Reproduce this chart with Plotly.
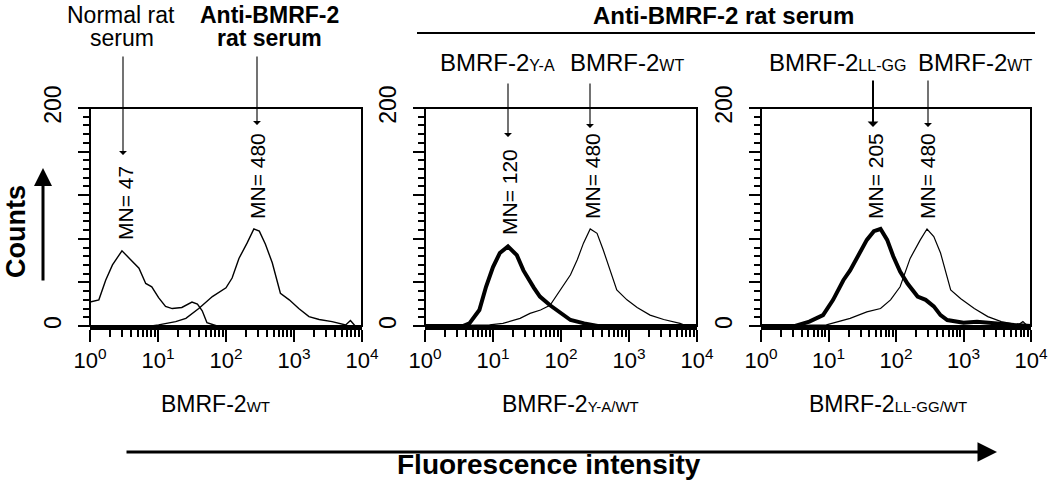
import plotly.graph_objects as go

W, H = 1050, 485

# ---------------- data ----------------
# Panel 1: BMRF-2 WT cells
p1_normal_x = [1.0, 1.35, 1.7, 2.14, 2.95, 3.55, 4.17, 5.25, 6.6, 8.1, 10.2, 12.9, 16.2, 22.4, 31.6, 38, 44.7, 52.5, 74, 10000]
p1_normal_y = [22, 24, 42, 56, 69, 64, 59, 53, 39, 36, 26, 18, 16, 17, 22, 20, 14, 3, 0, 0]
p1_anti_x = [1, 8, 10.2, 18.2, 25.7, 39.8, 63, 100, 123, 155, 204, 257, 309, 380, 479, 631, 851, 1175, 1660, 2344, 3630, 5750, 6760, 7943, 10000]
p1_anti_y = [0, 0, 1, 4, 7, 16, 27, 35, 44, 62, 76, 89, 87, 75, 58, 30, 24, 16, 8.6, 6, 4, 1, 5, 0, 0]

# Panel 2: BMRF-2 Y-A (thick) vs WT (thin)
p2_ya_x = [1, 3.6, 4.5, 6.3, 7.9, 10, 12.6, 16.6, 22.4, 28, 40, 49, 69, 98, 138, 219, 347, 10000]
p2_ya_y = [0, 0, 2.4, 14.7, 36, 54, 67, 73, 65, 51, 35, 27, 19, 11.6, 5.5, 2.4, 0, 0]
p2_wt_x = [1, 8.9, 14, 25, 35, 50, 69, 98, 138, 174, 214, 269, 339, 417, 525, 661, 933, 1318, 2042, 3236, 5623, 7079, 10000]
p2_wt_y = [0, 1, 2.4, 7, 11.6, 14.7, 19, 33, 47, 61, 76, 89, 85, 70, 51, 33, 24, 17, 10, 6, 2.4, 0, 0]

# Panel 3: BMRF-2 LL-GG (thick) vs WT (thin)
p3_llgg_x = [1, 3.2, 5.2, 8.3, 11.7, 16.6, 20.9, 29.5, 37, 47, 59, 74, 91, 115, 148, 209, 275, 363, 457, 575, 1000, 1585, 2818, 5623, 10000]
p3_llgg_y = [0, 0, 4, 10, 24, 42, 51, 67, 79, 87, 89, 79, 64, 50, 39, 27, 24, 18, 10, 5.5, 3, 4, 2.4, 1, 0]
p3_wt_x = [1, 9.3, 20.9, 37, 59, 83, 115, 162, 229, 288, 363, 457, 646, 912, 1445, 2291, 3630, 6457, 7586, 8900, 10000]
p3_wt_y = [0, 1, 7, 13, 16, 24, 36, 62, 79, 89, 82, 67, 33, 25, 16, 8.6, 4, 1, 4, 0, 0]

x_tickvals = [1, 10, 100, 1000, 10000]
x_ticktext = ["10<sup>0</sup>", "10<sup>1</sup>", "10<sup>2</sup>", "10<sup>3</sup>", "10<sup>4</sup>"]
y_tickvals = [0, 40, 80, 120, 160, 200]
y_ticktext = ["0", "", "", "", "", "200"]

mn_labels = ["MN= 47", "MN= 480", "MN= 120", "MN= 480", "MN= 205", "MN= 480"]

# ---------------- helpers ----------------
def px(x):
    return x / W

def py(y):
    return 1 - y / H

FONT = "Liberation Sans, Arial, sans-serif"

fig = go.Figure()

def add_line(x, y, width, ax):
    fig.add_trace(go.Scatter(x=x, y=y, mode="lines",
                             line=dict(color="black", width=width),
                             xaxis=ax[0], yaxis=ax[1], showlegend=False,
                             hoverinfo="skip"))

add_line(p1_normal_x, p1_normal_y, 1.4, ("x", "y"))
add_line(p1_anti_x, p1_anti_y, 1.4, ("x", "y"))
add_line(p2_wt_x, p2_wt_y, 1.2, ("x2", "y2"))
add_line(p2_ya_x, p2_ya_y, 4, ("x2", "y2"))
add_line(p3_wt_x, p3_wt_y, 1.2, ("x3", "y3"))
add_line(p3_llgg_x, p3_llgg_y, 4, ("x3", "y3"))

minor_x = [m * 10 ** d for d in range(4) for m in range(2, 10)]

panels = [(90, 362), (425, 697), (761, 1031)]
ydom = [py(326), py(108)]
layout = dict(width=W, height=H, margin=dict(l=0, r=0, t=0, b=0, autoexpand=False),
              paper_bgcolor="white", plot_bgcolor="white", template="none",
              font=dict(family=FONT, color="black"), showlegend=False)

for i, (l, r) in enumerate(panels):
    sx = "" if i == 0 else str(i + 1)
    layout["xaxis" + sx] = dict(
        domain=[px(l), px(r)], type="log", range=[0, 4], automargin=False,
        tickmode="array", tickvals=x_tickvals, ticktext=x_ticktext,
        ticks="outside", ticklen=12, tickwidth=2, tickcolor="black",
        showline=True, linewidth=4, linecolor="black",
        showgrid=False, zeroline=False,
        tickfont=dict(size=22, family=FONT),
        minor=dict(tickmode="array", tickvals=minor_x, ticks="outside",
                   ticklen=7, tickwidth=1.5, tickcolor="black", showgrid=False),
        anchor="y" + sx, fixedrange=True)
    layout["yaxis" + sx] = dict(
        domain=ydom, range=[0, 200], automargin=False,
        tickmode="array", tickvals=y_tickvals, ticktext=y_ticktext,
        tickangle=-90, ticks="outside", ticklen=11, tickwidth=2, tickcolor="black",
        showline=False, showgrid=False, zeroline=False,
        tickfont=dict(size=23, family=FONT),
        ticklabelstandoff=8,
        minor=dict(dtick=8, ticks="outside", ticklen=6, tickwidth=1.5,
                   tickcolor="black", showgrid=False),
        anchor="x" + sx, fixedrange=True)

fig.update_layout(**layout)

# boxes around the plots
for i in range(3):
    sx = "" if i == 0 else str(i + 1)
    fig.add_shape(type="rect", xref="x" + sx + " domain", yref="y" + sx + " domain",
                  x0=0, x1=1, y0=0, y1=1, line=dict(color="black", width=2),
                  layer="above")

# header rule
fig.add_shape(type="line", xref="paper", yref="paper",
              x0=px(417), x1=px(1035), y0=py(33), y1=py(33),
              line=dict(color="black", width=2))

def text(x, y, s, size, angle=0, bold=False):
    fig.add_annotation(x=px(x), y=py(y), xref="paper", yref="paper",
                       text=("<b>%s</b>" % s) if bold else s, showarrow=False,
                       xanchor="center", yanchor="middle", textangle=angle,
                       borderpad=0,
                       font=dict(size=size, family=FONT, color="black"))

def arrow(x, ytip, ytail, width=1, head=2, size=1.0, xtail=None, horizontal=False):
    if horizontal:
        fig.add_annotation(x=px(x), y=py(ytip), xref="paper", yref="paper",
                           ax=(xtail - x), ay=0, axref="pixel", ayref="pixel",
                           showarrow=True, arrowhead=head, arrowsize=size,
                           arrowwidth=width, arrowcolor="black", text="")
    else:
        fig.add_annotation(x=px(x), y=py(ytip), xref="paper", yref="paper",
                           ax=0, ay=(ytail - ytip), axref="pixel", ayref="pixel",
                           showarrow=True, arrowhead=head, arrowsize=size,
                           arrowwidth=width, arrowcolor="black", text="")

def sub(main, s, size=16):
    return main + "<span style='font-size:%dpx'>%s</span>" % (size, s)

# top labels panel 1
text(121, 15, "Normal rat", 23)
text(122, 38, "serum", 23)
text(269, 15, "Anti-BMRF-2", 23, bold=True)
text(269, 38, "rat serum", 23, bold=True)
# header
text(723, 15, "Anti-BMRF-2 rat serum", 24, bold=True)
# panel 2/3 labels
text(497, 63, sub("BMRF-2", "Y-A"), 24)
text(627, 63, sub("BMRF-2", "WT"), 24)
text(837, 63, sub("BMRF-2", "LL-GG"), 24)
text(975, 63, sub("BMRF-2", "WT"), 24)

# arrows
arrow(123, 155, 55, width=1.1, head=1, size=1.2)
arrow(257, 125, 55, width=1.1, head=1, size=1.2)
arrow(508, 137, 82, width=1.1, head=1, size=1.2)
arrow(590, 128, 82, width=1.1, head=1, size=1.2)
arrow(873, 127, 79, width=2, head=1, size=0.9)
arrow(928, 127, 79, width=1.1, head=1, size=1.2)

# MN labels
mn_pos = [(125, 203), (257, 176), (510, 192), (592, 176), (875, 176), (927, 176)]
for (x, y), s in zip(mn_pos, mn_labels):
    text(x, y, s, 21, angle=-90)

# bottom labels
text(215, 404, sub("BMRF-2", "WT", 15), 23)
text(570, 404, sub("BMRF-2", "Y-A/WT", 15), 23)
text(888, 404, sub("BMRF-2", "LL-GG/WT", 15), 23)

# Counts + arrow
text(16, 232, "Counts", 27, angle=-90, bold=True)
arrow(43, 168, 282, width=3, head=2, size=1.2)

# Fluorescence intensity + arrow
arrow(997, 452, None, width=3, head=2, size=1.3, xtail=125, horizontal=True)
text(549, 464, "Fluorescence intensity", 28, bold=True)

fig.write_html("out.html",
               config={"displayModeBar": False},
               post_script="document.body.style.margin='0';document.body.style.overflow='hidden';")
